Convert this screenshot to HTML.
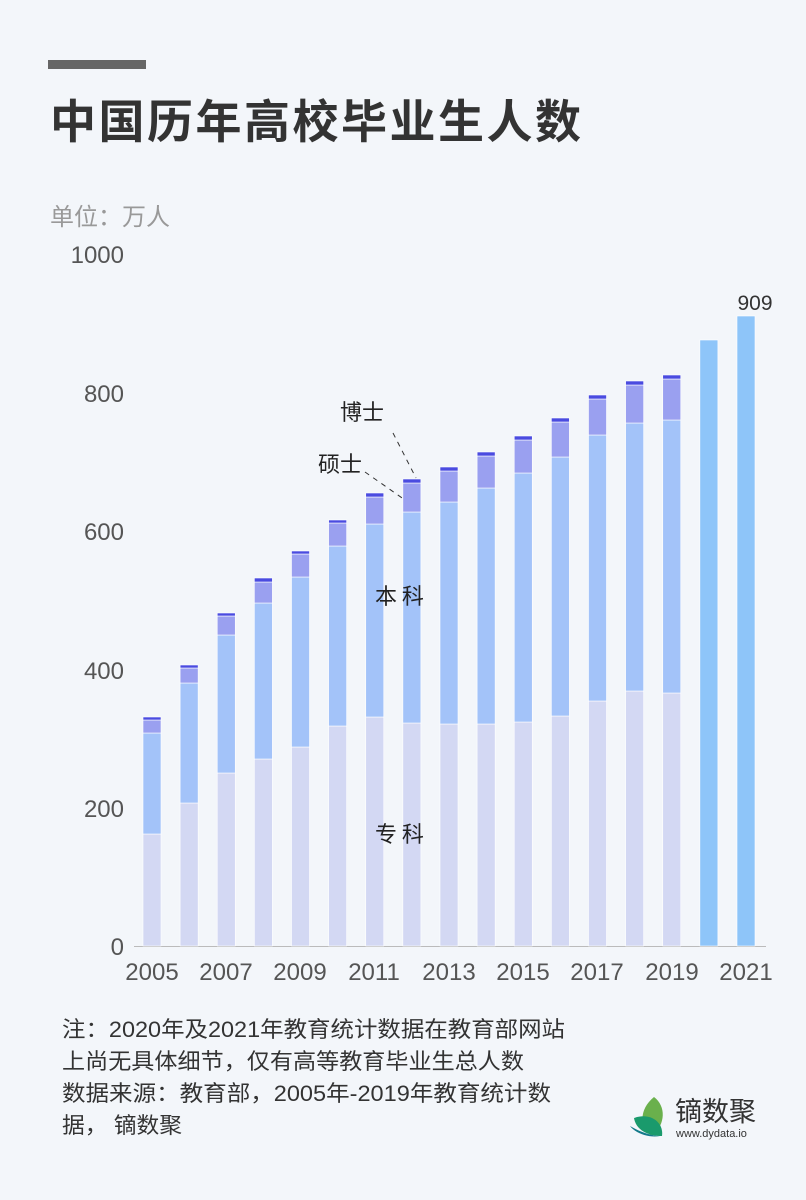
<!DOCTYPE html>
<html><head><meta charset="utf-8"><style>
body{margin:0;width:806px;height:1200px;background:#f3f6fa;font-family:"Liberation Sans","Noto Sans CJK SC",sans-serif;overflow:hidden}
</style></head><body>
<svg width="806" height="1200" xmlns="http://www.w3.org/2000/svg" style="position:absolute;left:0;top:0">
<rect x="48" y="60" width="98" height="9" fill="#666"/>
<text x="50" y="138" font-size="46" font-weight="bold" fill="#333" letter-spacing="2.5" font-family="Noto Sans CJK SC,sans-serif">中国历年高校毕业生人数</text>
<text x="50" y="225" font-size="24" fill="#999" font-family="Noto Sans CJK SC,sans-serif">单位：万人</text>
<g font-size="24" fill="#555" text-anchor="end" font-family="Liberation Sans,sans-serif">
<text x="124" y="263">1000</text><text x="124" y="402">800</text><text x="124" y="540">600</text>
<text x="124" y="679">400</text><text x="124" y="817">200</text><text x="124" y="955">0</text>
</g>
<line x1="134" y1="946.5" x2="766" y2="946.5" stroke="#bbb"/>
<g id="bars" stroke="#fff" stroke-width="0.6">
</g>
<g font-size="24" fill="#555" text-anchor="middle">
<text x="152" y="980">2005</text><text x="226" y="980">2007</text><text x="300" y="980">2009</text><text x="374" y="980">2011</text><text x="449" y="980">2013</text><text x="523" y="980">2015</text><text x="597" y="980">2017</text><text x="672" y="980">2019</text><text x="746" y="980">2021</text>
<text x="755" y="310" font-size="21" fill="#333">909</text>
</g>
<g stroke="#333" stroke-width="1" stroke-dasharray="5,5">
<line x1="393" y1="433" x2="416" y2="478"/>
<line x1="365" y1="472" x2="405" y2="500"/>
</g>
<g font-size="22" fill="#222" font-family="Noto Sans CJK SC,sans-serif">
<text x="340" y="420">博士</text><text x="318" y="472">硕士</text>
<text x="375" y="604">本 科</text><text x="375" y="842">专 科</text>
</g>
<g font-size="22" fill="#333" font-family="Liberation Sans,Noto Sans CJK SC,sans-serif">
<text x="62" y="1037" textLength="503" lengthAdjust="spacingAndGlyphs">注：2020年及2021年教育统计数据在教育部网站</text>
<text x="62" y="1069" textLength="462" lengthAdjust="spacingAndGlyphs">上尚无具体细节，仅有高等教育毕业生总人数</text>
<text x="62" y="1101" textLength="489" lengthAdjust="spacingAndGlyphs">数据来源：教育部，2005年-2019年教育统计数</text>
<text x="62" y="1133" textLength="120" lengthAdjust="spacingAndGlyphs">据， 镝数聚</text>
</g>
<path d="M654 1097 C638 1110 640 1128 652 1136 C666 1124 666 1106 654 1097Z" fill="#6ab04c"/>
<path d="M634 1118 C650 1112 664 1122 662 1136 C648 1136 636 1130 634 1118Z" fill="#1a9a6c"/>
<path d="M630 1126 C640 1132 652 1136 660 1136 C650 1138 636 1134 630 1126Z" fill="#137a8a"/>
<text x="675" y="1121" font-size="27" fill="#333" font-family="Noto Sans CJK SC,sans-serif">镝数聚</text>
<text x="676" y="1137" font-size="11" fill="#333">www.dydata.io</text>
</svg>
<script>
var d=[[834,733,720,717],[803,683,668,665],[773,635,616,613],[759,603,582,578],[747,577,554,551],[726,546,523,520],[717,524,497,493],[723,512,483,479],[724,502,471,467],[724,488,456,452],[722,473,440,436],[716,457,422,418],[701,435,399,395],[691,423,385,381],[693,420,379,375]];
var g=document.getElementById('bars'),s='';
function r(x,y1,y2,c){return '<rect x="'+x+'" y="'+y1+'" width="18" height="'+(y2-y1)+'" fill="'+c+'"/>';}
for(var i=0;i<d.length;i++){var x=143+i*37.125,b=d[i];
s+=r(x,b[0],946,'#d3d8f3')+r(x,b[1],b[0],'#a3c3f9')+r(x,b[2],b[1],'#9aa0f0')+r(x,b[3],b[2],'#4a4be0');}
s+=r(143+15*37.125,340,946,'#8ec5f9')+r(143+16*37.125,316,946,'#8ec5f9');
g.innerHTML=s;
</script>
</body></html>
